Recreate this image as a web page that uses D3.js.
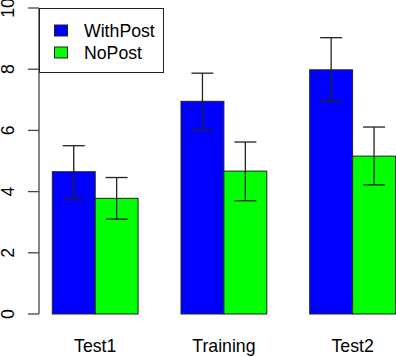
<!DOCTYPE html>
<html>
<head>
<meta charset="utf-8">
<script src="https://cdn.jsdelivr.net/npm/d3@7"></script>
<style>
  body { margin: 0; background: #fff; }
  svg { display: block; font-family: "Liberation Sans", Arial, sans-serif; }
</style>
</head>
<body>
<div id="chart"></div>
<script>
// data
const categories = ["Test1", "Training", "Test2"];
const seriesNames = ["WithPost", "NoPost"];
const seriesColors = ["#0000ff", "#00ff00"];
const withPost = [4.65, 6.95, 7.98];
const withPostLow = [3.78, 6.01, 6.95];
const withPostHigh = [5.5, 7.87, 9.03];
const noPost = [3.78, 4.67, 5.16];
const noPostLow = [3.1, 3.7, 4.22];
const noPostHigh = [4.46, 5.62, 6.11];
const yTicks = [0, 2, 4, 6, 8, 10];

const width = 396, height = 357;

const svg = d3.select("#chart")
  .append("svg")
  .attr("width", width)
  .attr("height", height);

// x in "bar units", R barplot style: each group = gap + 2 bars
const x = d3.scaleLinear().domain([0, 9]).range([9.4, 395.5]);
const y = d3.scaleLinear().domain([0, 10]).range([314, 8]);

const series = [
  { name: seriesNames[0], color: seriesColors[0], values: withPost, lo: withPostLow, hi: withPostHigh },
  { name: seriesNames[1], color: seriesColors[1], values: noPost, lo: noPostLow, hi: noPostHigh }
];

const bars = [];
categories.forEach((c, g) => {
  series.forEach((s, j) => {
    bars.push({ cat: c, color: s.color, v: s.values[g], lo: s.lo[g], hi: s.hi[g], u: g * 3 + 1 + j });
  });
});

// bars
svg.selectAll("rect.bar")
  .data(bars)
  .enter()
  .append("rect")
  .attr("class", "bar")
  .attr("x", d => x(d.u))
  .attr("y", d => y(d.v))
  .attr("width", d => x(d.u + 1) - x(d.u))
  .attr("height", d => y(0) - y(d.v))
  .attr("fill", d => d.color)
  .attr("stroke", "#222")
  .attr("stroke-width", 1);

// error bars
const err = svg.append("g").attr("stroke", "#222").attr("stroke-width", 1.3);
bars.forEach(d => {
  const cx = x(d.u + 0.5);
  err.append("line").attr("x1", cx).attr("x2", cx).attr("y1", y(d.lo)).attr("y2", y(d.hi));
  err.append("line").attr("x1", cx - 11).attr("x2", cx + 11).attr("y1", y(d.lo)).attr("y2", y(d.lo));
  err.append("line").attr("x1", cx - 11).attr("x2", cx + 11).attr("y1", y(d.hi)).attr("y2", y(d.hi));
});

// y axis
const axis = svg.append("g").attr("stroke", "#444").attr("stroke-width", 1.3);
axis.append("line").attr("x1", 39).attr("x2", 39).attr("y1", y(0)).attr("y2", y(10));
axis.selectAll("line.tick")
  .data(yTicks)
  .enter()
  .append("line")
  .attr("class", "tick")
  .attr("x1", 28).attr("x2", 39)
  .attr("y1", d => y(d)).attr("y2", d => y(d));

svg.selectAll("text.ytick")
  .data(yTicks)
  .enter()
  .append("text")
  .attr("class", "ytick")
  .attr("transform", d => `translate(14,${y(d)}) rotate(-90)`)
  .attr("text-anchor", "middle")
  .style("font-size", "17.7px")
  .text(d => d);

// category labels
svg.selectAll("text.cat")
  .data(categories)
  .enter()
  .append("text")
  .attr("class", "cat")
  .attr("x", (d, i) => x(i * 3 + 2))
  .attr("y", 352)
  .attr("text-anchor", "middle")
  .style("font-size", "17.7px")
  .text(d => d);

// legend
const legend = svg.append("g");
legend.append("rect")
  .attr("x", 39.5).attr("y", 8.5)
  .attr("width", 124).attr("height", 64)
  .attr("fill", "#fff")
  .attr("stroke", "#222");

const items = legend.selectAll("g.item")
  .data(series)
  .enter()
  .append("g")
  .attr("class", "item")
  .attr("transform", (d, i) => `translate(0,${30.5 + i * 22})`);

items.append("rect")
  .attr("x", 54.5).attr("y", -5.5)
  .attr("width", 13).attr("height", 11)
  .attr("fill", d => d.color)
  .attr("stroke", "#222");

items.append("text")
  .attr("x", 84)
  .attr("y", 6.3)
  .style("font-size", "17.7px")
  .text(d => d.name);
</script>
</body>
</html>
